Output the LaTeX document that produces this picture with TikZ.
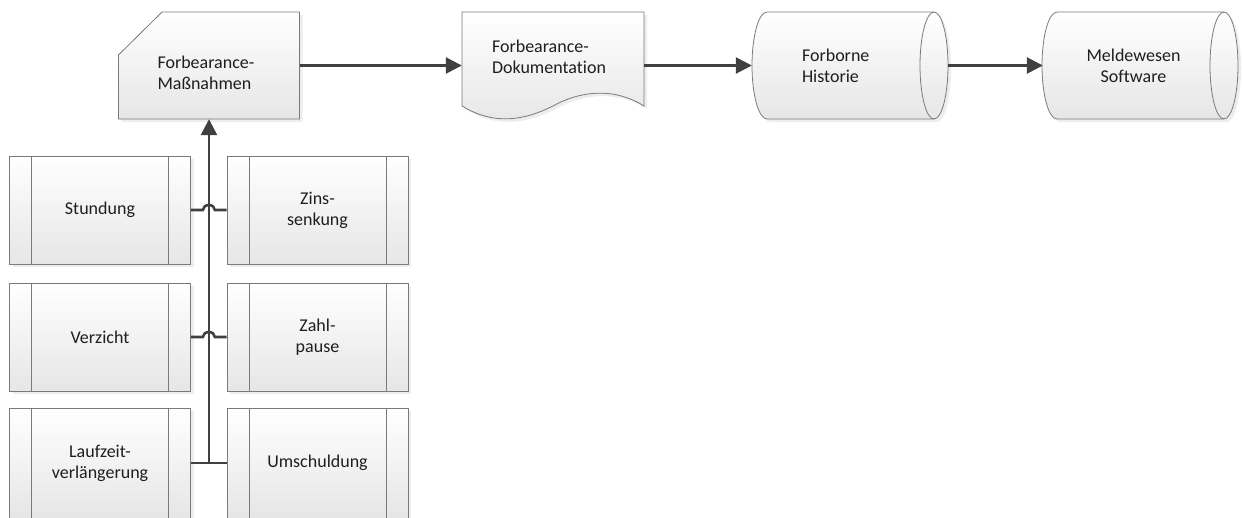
\documentclass[tikz,border=0pt]{standalone}
\usepackage{fontspec}
\setmainfont{Carlito}[Ligatures=NoCommon]
\usetikzlibrary{arrows.meta,shadows}
\definecolor{rimcol}{HTML}{7A7A7A}
\definecolor{wirecol}{HTML}{404040}
\definecolor{shadecol}{HTML}{E6E6E6}
\definecolor{txtcol}{HTML}{1E1E1E}

\begin{document}
\begin{tikzpicture}[x=1pt,y=-1pt,
  font=\fontsize{18}{21}\selectfont, text=txtcol,
  sym/.style={draw=rimcol, line width=.8pt, top color=white, bottom color=shadecol,
    drop shadow={shadow xshift=3pt, shadow yshift=-3pt, fill=black!14}},
  proc/.style={sym, minimum width=181pt, inner sep=0pt, align=center,
    path picture={\draw[rimcol, line width=.8pt]
      ([xshift=22pt]path picture bounding box.north west) -- ([xshift=22pt]path picture bounding box.south west)
      ([xshift=-22pt]path picture bounding box.north east) -- ([xshift=-22pt]path picture bounding box.south east);}},
  txtbox/.style={minimum height=107pt, inner ysep=0pt},
  wire/.style={draw=wirecol, line width=2.6pt},
  tip/.style={-{Triangle[length=16pt,width=16pt]}}]
  \useasboundingbox (0,0) rectangle (1242,517);

  % symbols of the top row
  \path[sym] (118.5,55) -- (162,12) -- (299.5,12) -- (299.5,119) -- (118.5,119) -- cycle;
  \path[sym] (462,12) -- (644,12) -- (644,106) .. controls (612,86) and (578,92) .. (553,106)
    .. controls (525,120) and (495,126) .. (462,106) -- cycle;
  \foreach \lx/\rx in {767/934, 1057/1224} {
    \path[sym] (\lx,12) arc[start angle=270, end angle=90, x radius=15, y radius=53.5]
      -- (\rx,119) arc[start angle=90, end angle=-90, x radius=14, y radius=53.5] -- cycle;
    \draw[rimcol, line width=.8pt] (\rx,12) arc[start angle=270, end angle=90, x radius=14, y radius=53.5];
  }

  \node[txtbox, text width=103pt, inner xsep=39pt, align=left] (massn) at (209,65.5) {\rule{0pt}{28pt}Forbearance-\\Maßnahmen};
  \node[txtbox, text width=122pt, inner xsep=30pt, align=left] (doku) at (553,65.5) {Forbearance-\\Dokumentation\rule[-18pt]{0pt}{0pt}};
  \node[txtbox, text width=82pt, inner xsep=50pt, align=left] (forb) at (843,65.5) {Forborne\\Historie};
  \node[txtbox, text width=121pt, inner xsep=30pt, align=center] (melde) at (1133.5,65.5) {Meldewesen\\Software};

  % measures
  \foreach \y/\h/\lname/\ltext/\rname/\rtext in {210/108/stund/Stundung/zins/{Zins-\\senkung},
      337/108/verz/Verzicht/zahl/{Zahl-\\pause}, 463/110/laufz/{Laufzeit-\\verlängerung}/umsch/Umschuldung} {
    \node[proc, minimum height=\h pt] (\lname) at (100,\y) {\ltext};
    \node[proc, minimum height=\h pt] (\rname) at (317.5,\y) {\rtext};
  }

  \coordinate (hub) at (209,463);
  \draw[wire] (laufz.east) -- (umsch.west);
  \draw[wire,tip] (hub) -- (hub |- massn.south);
  \foreach \a/\b in {stund/zins, verz/zahl}
    \draw[wire] (\a.east) -- ++(12,0) arc[start angle=180, end angle=360, x radius=6, y radius=5] -- (\b.west);

  \draw[wire,tip] (massn) -- (doku);
  \draw[wire,tip] (doku) -- (forb);
  \draw[wire,tip] ([xshift=14pt]forb.east) -- (melde.west);
\end{tikzpicture}
\end{document}
